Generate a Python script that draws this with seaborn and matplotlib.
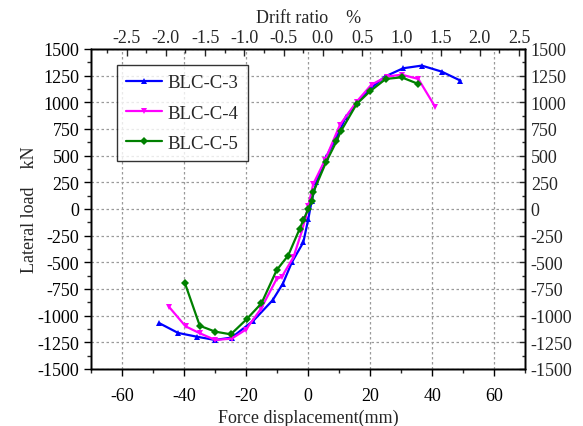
import matplotlib
matplotlib.use("Agg")
import matplotlib.pyplot as plt
from matplotlib.ticker import MultipleLocator, FormatStrFormatter
import seaborn as sns
import pandas as pd

sns.set_style("white")
plt.rcParams.update(
    {
        "font.family": ["Liberation Serif", "DejaVu Serif"],
        "font.size": 13,
        "axes.linewidth": 1.0,
        "axes.edgecolor": "black",
        "axes.unicode_minus": False,
    }
)

# data (displacement mm, load kN)
blc3_x = [-48.1, -42.0, -36.0, -30.1, -24.7, -17.7, -11.5, -8.2, -5.3, -1.6, 0.0,
          1.1, 2.6, 5.7, 9.1, 12.2, 15.6, 19.9, 24.7, 30.6, 36.6, 43.0, 49.1]
blc3_y = [-1070, -1162, -1197, -1228, -1205, -1047, -855, -700, -500, -312, -94,
          78, 250, 484, 672, 866, 991, 1125, 1241, 1319, 1344, 1288, 1203]

blc4_x = [-44.8, -39.6, -35.0, -30.0, -24.7, -20.1, -15.3, -10.2, -8.6, -4.8, -2.2,
          -1.0, 0.0, 1.6, 5.4, 10.2, 15.6, 20.4, 25.3, 30.1, 35.5, 40.9]
blc4_y = [-922, -1100, -1165, -1228, -1215, -1130, -937, -655, -638, -453, -219,
          -94, 30, 234, 459, 788, 1006, 1166, 1241, 1259, 1219, 959]

blc5_x = [-39.8, -35.0, -30.0, -25.0, -19.9, -15.1, -10.2, -6.5, -2.8, -1.6, 0.0,
          1.1, 1.6, 5.7, 9.1, 10.5, 15.6, 19.9, 25.0, 30.1, 35.5]
blc5_y = [-695, -1095, -1150, -1175, -1034, -884, -573, -437, -187, -105, 0,
          78, 156, 437, 634, 728, 984, 1103, 1219, 1234, 1172]

names = ["BLC-C-3", "BLC-C-4", "BLC-C-5"]
colors = ["#0000FF", "#FF00FF", "#008000"]
markers = ["^", "v", "D"]

frames = []
for name, xs, ys in zip(names, [blc3_x, blc4_x, blc5_x], [blc3_y, blc4_y, blc5_y]):
    frames.append(pd.DataFrame({"disp": xs, "load": ys, "specimen": name}))
df = pd.concat(frames, ignore_index=True)

fig = plt.figure(figsize=(5.83, 4.27), dpi=100)
ax = fig.add_axes([0.1566, 0.1335, 0.7444, 0.7495])

ax.grid(True, which="major", linestyle=(0, (2, 2)), color="#9a9a9a", linewidth=0.9)
ax.set_axisbelow(True)

sns.lineplot(
    data=df,
    x="disp",
    y="load",
    hue="specimen",
    style="specimen",
    palette=dict(zip(names, colors)),
    markers=dict(zip(names, markers)),
    dashes=False,
    sort=False,
    estimator=None,
    linewidth=1.6,
    markersize=4.5,
    markeredgewidth=0,
    ax=ax,
)

ax.set_xlim(-70, 70)
ax.set_ylim(-1500, 1500)
ax.xaxis.set_major_locator(MultipleLocator(20))
ax.xaxis.set_minor_locator(MultipleLocator(10))
ax.yaxis.set_major_locator(MultipleLocator(250))
ax.yaxis.set_minor_locator(MultipleLocator(125))
ax.tick_params(axis="both", which="major", direction="out", length=5, width=1,
               labelsize=13, colors="black", left=True, bottom=True)
ax.tick_params(axis="x", which="major", pad=8)
ax.tick_params(axis="both", which="minor", direction="out", length=3, width=1,
               left=True, bottom=True)
ax.set_xlabel("Force displacement(mm)", fontsize=13, labelpad=3)
ax.set_ylabel("Lateral load    kN", fontsize=13, labelpad=0)

# top drift-ratio axis
top = ax.twiny()
top.set_xlim(-2.95, 2.58)
top.xaxis.set_major_locator(MultipleLocator(0.5))
top.xaxis.set_minor_locator(MultipleLocator(0.25))
top.xaxis.set_major_formatter(FormatStrFormatter("%.1f"))
top.tick_params(axis="x", which="major", direction="in", length=5, width=1,
                labelsize=13, pad=2)
top.tick_params(axis="x", which="minor", direction="in", length=3, width=1)
top.set_xlabel("Drift ratio    %", fontsize=13, labelpad=5)

# right load axis
right = ax.twinx()
right.set_ylim(-1500, 1500)
right.yaxis.set_major_locator(MultipleLocator(250))
right.yaxis.set_minor_locator(MultipleLocator(125))
right.tick_params(axis="y", which="major", direction="in", length=4, width=1,
                  labelsize=13, pad=4)
right.tick_params(axis="y", which="minor", direction="in", length=2, width=1)

for a in (ax, top, right):
    for s in a.spines.values():
        s.set_color("black")
        s.set_linewidth(1.0)

handles, labels = ax.get_legend_handles_labels()
leg = ax.legend(
    handles,
    labels,
    loc="upper left",
    bbox_to_anchor=(0.059, 0.95),
    borderaxespad=0,
    frameon=True,
    fancybox=False,
    edgecolor="black",
    fontsize=13.5,
    handlelength=1.9,
    handletextpad=0.3,
    labelspacing=0.7,
    borderpad=0.5,
)
leg.get_frame().set_linewidth(1.0)

fig.savefig("out.png", dpi=100)
